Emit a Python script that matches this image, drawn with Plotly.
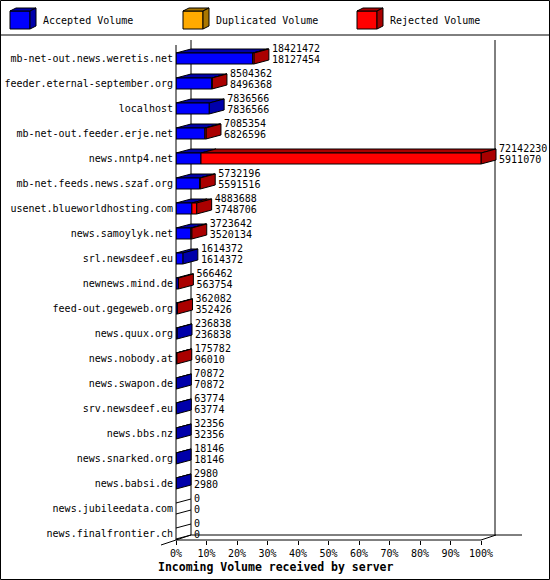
import plotly.graph_objects as go

# ---------------- data ----------------
servers = [
    "mb-net-out.news.weretis.net", "feeder.eternal-september.org", "localhost",
    "mb-net-out.feeder.erje.net", "news.nntp4.net", "mb-net.feeds.news.szaf.org",
    "usenet.blueworldhosting.com", "news.samoylyk.net", "srl.newsdeef.eu",
    "newnews.mind.de", "feed-out.gegeweb.org", "news.quux.org", "news.nobody.at",
    "news.swapon.de", "srv.newsdeef.eu", "news.bbs.nz", "news.snarked.org",
    "news.babsi.de", "news.jubileedata.com", "news.finalfrontier.ch",
]
offered = [18421472, 8504362, 7836566, 7085354, 72142230, 5732196, 4883688,
           3723642, 1614372, 566462, 362082, 236838, 175782, 70872, 63774,
           32356, 18146, 2980, 0, 0]
accepted = [18127454, 8496368, 7836566, 6826596, 5911070, 5591516, 3748706,
            3520134, 1614372, 563754, 352426, 236838, 96010, 70872, 63774,
            32356, 18146, 2980, 0, 0]
duplicated = [0, 0, 0, 0, 0, 0, 0, 0, 0, 0, 0, 0, 0, 0, 0, 0, 0, 0, 0, 0]
pct_ticks = [0, 10, 20, 30, 40, 50, 60, 70, 80, 90, 100]
pct_labels = ["0%", "10%", "20%", "30%", "40%", "50%", "60%", "70%", "80%", "90%", "100%"]
series_names = ["Accepted Volume", "Duplicated Volume", "Rejected Volume"]

# ---------------- style ----------------
FONT = "DejaVu Sans Mono"
FRONT = ["#0000FF", "#FFAA00", "#FF0000"]
DARK = ["#0000AA", "#AA7700", "#AA0000"]
W, H = 550, 580
L_PX, R_PX, T_PX, B_PX = 176, 530, 38, 540
PX_PER_PCT = 3.05
PX_PER_ROW = 25.0
X_MAX = (R_PX - L_PX) / PX_PER_PCT
Y_TOP = 20.5 / PX_PER_ROW
Y_BOT = Y_TOP - (B_PX - T_PX) / PX_PER_ROW
HH = 5.5 / PX_PER_ROW          # half height of front face (data units)
DX = 15 / PX_PER_PCT           # depth in x (data units)
DY = 4 / PX_PER_ROW            # depth in y (data units)


def xp(px):
    return (px - L_PX) / (R_PX - L_PX)


def yp(py):
    return (B_PX - py) / (B_PX - T_PX)


vmax = max(offered)
rows = list(range(len(servers)))
yc = [-i for i in rows]

fronts = [[[], []] for _ in range(3)]
tops = [[[], []] for _ in range(3)]
sides = [[[], []] for _ in range(3)]
empty = [[], []]


def add(poly, xs, ys, close=True):
    if close:
        xs = list(xs) + [xs[0]]
        ys = list(ys) + [ys[0]]
    poly[0].extend(list(xs) + [None])
    poly[1].extend(list(ys) + [None])


ends = []
for i in rows:
    c = yc[i]
    segs = [accepted[i], duplicated[i], offered[i] - accepted[i] - duplicated[i]]
    x0 = 0.0
    last = None
    for k, v in enumerate(segs):
        if v <= 0:
            continue
        w = v / vmax * 100
        x1 = x0 + w
        add(fronts[k], [x0, x1, x1, x0], [c - HH, c - HH, c + HH, c + HH])
        add(tops[k], [x0, x1, x1 + DX, x0 + DX], [c + HH, c + HH, c + HH + DY, c + HH + DY])
        x0 = x1
        last = k
    if last is None:
        add(empty, [0, DX], [c + HH, c + HH + DY], close=False)
        add(empty, [0, DX], [c - HH, c - HH + DY], close=False)
    else:
        add(sides[last], [x0, x0 + DX, x0 + DX, x0],
            [c - HH, c - HH + DY, c + HH + DY, c + HH])
    ends.append(x0 + DX)

fig = go.Figure()
for k in range(3):
    fig.add_trace(go.Scatter(x=tops[k][0], y=tops[k][1], mode="lines", fill="toself",
                             fillcolor=DARK[k], line=dict(color="black", width=1),
                             hoverinfo="skip", showlegend=False))
    fig.add_trace(go.Scatter(x=sides[k][0], y=sides[k][1], mode="lines", fill="toself",
                             fillcolor=DARK[k], line=dict(color="black", width=1),
                             hoverinfo="skip", showlegend=False))
for k in range(3):
    fig.add_trace(go.Scatter(x=fronts[k][0], y=fronts[k][1], mode="lines", fill="toself",
                             fillcolor=FRONT[k], line=dict(color="black", width=1),
                             hoverinfo="skip", showlegend=False, name=series_names[k]))
fig.add_trace(go.Scatter(x=empty[0], y=empty[1], mode="lines",
                         line=dict(color="black", width=1), hoverinfo="skip", showlegend=False))

# value labels
fig.add_trace(go.Scatter(
    x=[e + 1.0 for e in ends], y=[c + HH + DY for c in yc], mode="text",
    text=[str(v) for v in offered], textposition="middle right",
    textfont=dict(family=FONT, size=10, color="black"), cliponaxis=False,
    hoverinfo="skip", showlegend=False))
fig.add_trace(go.Scatter(
    x=[e + 1.0 for e in ends], y=[c + HH + DY - 11.5 / PX_PER_ROW for c in yc], mode="text",
    text=[str(v) for v in accepted], textposition="middle right",
    textfont=dict(family=FONT, size=10, color="black"), cliponaxis=False,
    hoverinfo="skip", showlegend=False))

shapes = []


def line(x0, y0, x1, y1, layer="above"):
    shapes.append(dict(type="line", xref="paper", yref="paper",
                       x0=xp(x0), y0=yp(y0), x1=xp(x1), y1=yp(y1),
                       line=dict(color="black", width=1), layer=layer))


# back walls / floor
line(191, 40, 191, 535, "below")
line(495, 40, 495, 535, "below")
line(191, 535, 522, 535, "below")
# front axis
line(176, 45, 176, 540)
line(176, 540, 481, 540)
line(481, 540, 496, 535)
line(161, 545, 191, 535, "below")
# frame
line(0, 35, 550, 35)
shapes.append(dict(type="rect", xref="paper", yref="paper",
                   x0=xp(0.5), y0=yp(0.5), x1=xp(549.5), y1=yp(579.5),
                   line=dict(color="black", width=1), fillcolor="rgba(0,0,0,0)"))

# legend cubes
annotations = []
for k, lx in enumerate([10, 183, 357]):
    def poly(pts, col):
        path = "M " + " L ".join(f"{xp(a)},{yp(b)}" for a, b in pts) + " Z"
        shapes.append(dict(type="path", xref="paper", yref="paper", path=path,
                           fillcolor=col, line=dict(color="black", width=1)))
    poly([(lx, 11), (lx + 20, 11), (lx + 20, 29), (lx, 29)], FRONT[k])
    poly([(lx, 11), (lx + 6, 8), (lx + 26, 8), (lx + 20, 11)], DARK[k])
    poly([(lx + 20, 11), (lx + 26, 8), (lx + 26, 26), (lx + 20, 29)], DARK[k])
    annotations.append(dict(xref="paper", yref="paper", x=xp(lx + 31), y=yp(20),
                            xanchor="left", yanchor="middle", showarrow=False,
                            text=series_names[k],
                            font=dict(family=FONT, size=10, color="black")))

annotations.append(dict(xref="paper", yref="paper", x=xp(275), y=yp(567),
                        xanchor="center", yanchor="middle", showarrow=False,
                        text="<b>Incoming Volume received by server</b>",
                        font=dict(family=FONT, size=11.5, color="black")))

fig.update_layout(
    width=W, height=H,
    margin=dict(l=L_PX, r=W - R_PX, t=T_PX, b=H - B_PX, pad=0, autoexpand=False),
    paper_bgcolor="white", plot_bgcolor="white",
    shapes=shapes, annotations=annotations,
    xaxis=dict(range=[0, X_MAX], tickvals=pct_ticks, ticktext=pct_labels,
               ticks="outside", ticklen=4, tickcolor="black", tickwidth=1,
               showgrid=False, zeroline=False, showline=False, automargin=False,
               tickfont=dict(family=FONT, size=10, color="black"), fixedrange=True),
    yaxis=dict(range=[Y_BOT, Y_TOP], tickvals=yc, ticktext=servers,
               ticks="", showgrid=False, zeroline=False, showline=False, automargin=False,
               ticklabelstandoff=2,
               tickfont=dict(family=FONT, size=10, color="black"), fixedrange=True),
    font=dict(family=FONT, size=10, color="black"),
    showlegend=False,
)

fig.write_html(
    "out.html",
    config={"displayModeBar": False},
    post_script=(
        "document.documentElement.style.margin='0';"
        "document.documentElement.style.padding='0';"
        "document.documentElement.style.overflow='hidden';"
        "document.body.style.margin='0';"
        "document.body.style.padding='0';"
        "document.body.style.overflow='hidden';"
        "var d=document.getElementById('{plot_id}');"
        "d.style.position='absolute';d.style.left='0px';d.style.top='0px';"
    ),
)
